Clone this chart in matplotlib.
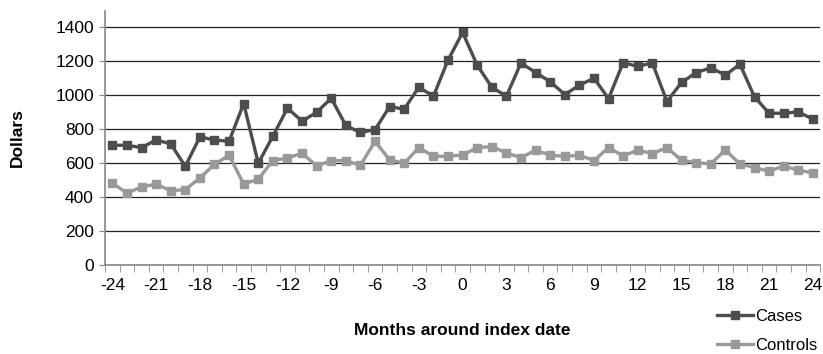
import matplotlib
matplotlib.use("Agg")
import matplotlib.pyplot as plt
import numpy as np

# months around the index date
months = list(range(-24, 25))

cases = [704, 704, 690, 735, 712, 580, 753, 735, 727, 949,
         598, 757, 922, 845, 898, 980, 820, 779, 796, 931,
         916, 1045, 992, 1204, 1367, 1175, 1045, 992, 1188, 1131,
         1078, 1002, 1057, 1098, 978, 1190, 1167, 1188, 961, 1073,
         1131, 1159, 1116, 1180, 988, 892, 892, 900, 857]

controls = [482, 422, 459, 475, 437, 443, 512, 592, 645, 476,
            504, 614, 629, 657, 582, 614, 614, 586, 727, 618,
            598, 690, 639, 639, 647, 690, 696, 659, 631, 675,
            645, 639, 645, 614, 690, 641, 675, 655, 690, 616,
            602, 594, 676, 594, 573, 551, 582, 557, 541]

yticks = [0, 200, 400, 600, 800, 1000, 1200, 1400]

plt.rcParams['font.family'] = ['Liberation Sans Narrow', 'Liberation Sans', 'DejaVu Sans']

fig = plt.figure(figsize=(8.23, 3.54), dpi=100)
ax = fig.add_axes([0.1276, 0.2514, 0.869, 0.718])

xpos = np.arange(len(months))
ax.plot(xpos, cases, color='#4d4d4d', lw=2.4, marker='s', ms=5.5, label='Cases', zorder=3)
ax.plot(xpos, controls, color='#999999', lw=2.4, marker='s', ms=5.5, label='Controls', zorder=3)

ax.set_xlim(-0.5, len(months) - 0.5)
ax.set_ylim(0, 1494)

ax.set_yticks(yticks)
ax.yaxis.grid(True, color='#222222', lw=0.9)
ax.set_axisbelow(True)
ax.tick_params(axis='y', length=4, color='#888888', labelsize=12.5, pad=4)

# labels at every third month, tick marks between categories
ax.set_xticks(xpos[::3])
ax.set_xticklabels([str(m) for m in months[::3]])
ax.set_xticks(np.arange(-0.5, len(months)), minor=True)
ax.tick_params(axis='x', which='major', length=0, labelsize=12.5, pad=9)
ax.tick_params(axis='x', which='minor', length=5, color='#888888')

for s in ['top', 'right']:
    ax.spines[s].set_visible(False)
ax.spines['left'].set_color('#888888')
ax.spines['bottom'].set_color('#888888')
ax.spines['left'].set_linewidth(1.2)
ax.spines['bottom'].set_linewidth(1.2)

ax.set_xlabel('Months around index date', fontsize=12.5, fontweight='bold', labelpad=22)
ax.set_ylabel('Dollars', fontsize=12.5, fontweight='bold', labelpad=22)

fig.legend(loc='lower right', bbox_to_anchor=(1.005, -0.025), frameon=False,
           fontsize=12, handlelength=2.2, handletextpad=0.1, labelspacing=0.85,
           borderaxespad=0.2)

fig.savefig('out.png', dpi=100)
